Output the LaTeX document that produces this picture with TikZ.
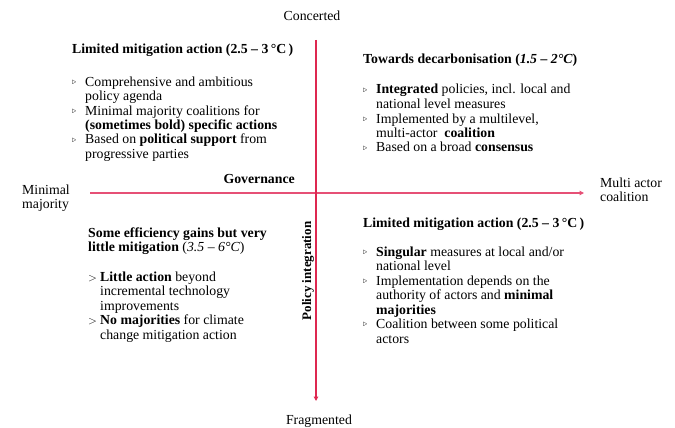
\documentclass[tikz,border=0pt]{standalone}
\usepackage{fontspec}
\setmainfont{Liberation Serif}
\usetikzlibrary{arrows.meta}
\definecolor{axisred}{RGB}{222,40,80}
\definecolor{axispink}{RGB}{230,80,118}
\newcommand{\bl}{\makebox[13pt][l]{\raisebox{0.3ex}{\scalebox{0.6}{$\triangleright$}}}}
\newcommand{\gt}{\makebox[12pt][l]{\scalebox{0.8}{$>$}}}
\newcommand{\ind}{\hspace*{13pt}}
\newcommand{\indb}{\hspace*{12pt}}
\newcommand{\blk}[1]{\begin{tabular}[t]{@{}l@{}}#1\end{tabular}}
\tikzset{
  axis/.style={line width=1.2pt, -{Triangle[length=4.5pt,width=4.5pt]}},
  txt/.style={anchor=base west, inner sep=0pt, font=\fontsize{13.8}{14.5}\selectfont},
  lbl/.style={inner sep=0pt, font=\fontsize{13.8}{14.5}\selectfont},
}
\begin{document}
\begin{tikzpicture}[x=1pt,y=-1pt]
\useasboundingbox (0,0) rectangle (675,428);
% axes
\coordinate (hs) at (90,193);
\coordinate (he) at (584,193);
\coordinate (vs) at (316,40);
\coordinate (ve) at (316,401);
\draw[axis, axispink] (hs) -- (he);
\draw[axis, axisred] (vs) -- (ve);
% axis labels
\node[lbl, anchor=base] (conc) at (312,21) {Concerted};
\node[lbl, anchor=base] (frag) at (319,424) {Fragmented};
\node[lbl, anchor=base west] (minm) at (22,194) {\blk{Minimal\\majority}};
\node[lbl, anchor=base west] (mult) at (600,187) {\blk{Multi actor\\coalition}};
\node[lbl, anchor=base east, font=\fontsize{13.8}{14.5}\selectfont\bfseries] (gov) at (295,183) {Governance};
\node[lbl, rotate=90, font=\fontsize{13}{14.5}\selectfont\bfseries] (pint) at (308,271) {Policy integration};
% top left
\node[txt] (tlt) at (72,54) {\textbf{Limited mitigation action (2.5 – 3\,°C\,)}};
\node[txt] (tlb) at (72,86) {\blk{\bl Comprehensive and ambitious\\
\ind policy agenda\\
\bl Minimal majority coalitions for\\
\ind \textbf{(sometimes bold) specific actions}\\
\bl Based on \textbf{political support} from\\
\ind progressive parties}};
% top right
\node[txt] (trt) at (363,64) {\textbf{Towards decarbonisation (\textit{1.5 – 2°C})}};
\node[txt] (trb) at (363,94) {\blk{\bl \textbf{Integrated} policies, incl. local and\\
\ind national level measures\\
\bl Implemented by a multilevel,\\
\ind multi-actor \ \textbf{coalition}\\
\bl Based on a broad \textbf{consensus}}};
% bottom left
\node[txt] (blt) at (88,237) {\blk{\textbf{Some efficiency gains but very}\\
\textbf{little mitigation} (\textit{3.5 – 6°C})}};
\node[txt] (blb) at (88,281) {\blk{\gt \textbf{Little action} beyond\\
\indb incremental technology\\
\indb improvements\\
\gt \textbf{No majorities} for climate\\
\indb change mitigation action}};
% bottom right
\node[txt] (brt) at (363,227) {\textbf{Limited mitigation action (2.5 – 3\,°C\,)}};
\node[txt] (brb) at (363,256) {\blk{\bl \textbf{Singular} measures at local and/or\\
\ind national level\\
\bl Implementation depends on the\\
\ind authority of actors and \textbf{minimal}\\
\ind \textbf{majorities}\\
\bl Coalition between some political\\
\ind actors}};
\end{tikzpicture}
\end{document}
